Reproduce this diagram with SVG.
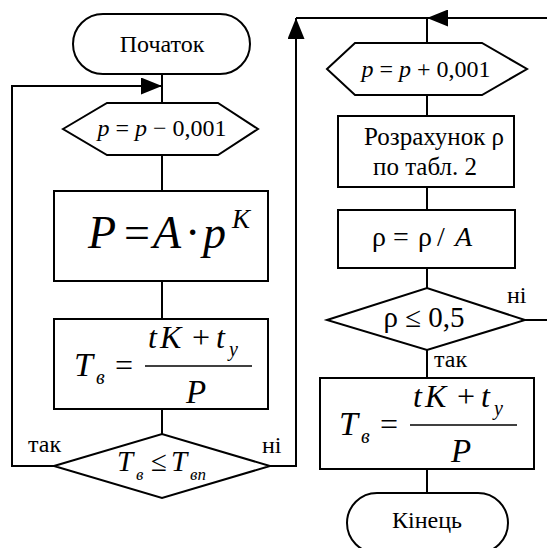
<svg xmlns="http://www.w3.org/2000/svg" width="547" height="548" viewBox="0 0 547 548">
<style>
.s{fill:#fff;stroke:#000;stroke-width:2}
.c{fill:none;stroke:#000;stroke-width:2}
text{font-family:'Liberation Serif','Liberation Sans',serif;fill:#000}
.i{font-style:italic}
.n{font-style:normal}
</style>
<defs>
<marker id="ah" markerUnits="userSpaceOnUse" viewBox="0 0 21 17" refX="21" refY="8.5" markerWidth="21" markerHeight="17" orient="auto">
<path d="M0,0 L21,8.5 L0,17 z" fill="#000"/>
</marker>
</defs>
<rect width="547" height="548" fill="#fff"/>
<g id="connectors">
<path class="c" d="M162,74 V103"/>
<path class="c" d="M54,466 H12 V86 H162" marker-end="url(#ah)"/>
<path class="c" d="M162,155 V191"/>
<path class="c" d="M162,281 V319"/>
<path class="c" d="M162,409 V434"/>
<path class="c" d="M270,466 H296 V18" marker-end="url(#ah)"/>
<path class="c" d="M296,18 H427"/>
<path class="c" d="M547,18 H427" marker-end="url(#ah)"/>
<path class="c" d="M427,18 V43"/>
<path class="c" d="M427,95 V116"/>
<path class="c" d="M427,187 V210"/>
<path class="c" d="M427,268 V288"/>
<path class="c" d="M427,350 V378"/>
<path class="c" d="M525,320 H547"/>
<path class="c" d="M427,469 V493"/>
<text x="28" y="452" font-size="24">так</text>
<text x="262" y="453" font-size="24">ні</text>
<text x="507" y="303" font-size="24">ні</text>
<text x="434" y="367" font-size="24">так</text>
</g>
<g id="start">
<rect class="s" x="73" y="14" width="177" height="60" rx="30"/>
<text x="162" y="52" font-size="24" text-anchor="middle">Початок</text>
</g>
<g id="dec1">
<polygon class="s" points="63,129 107,103 218,103 258,129 218,155 107,155"/>
<text x="162" y="136" font-size="24" text-anchor="middle"><tspan class="i">p</tspan> = <tspan class="i">p</tspan> − 0,001</text>
</g>
<g id="calcP">
<rect class="s" x="54" y="191" width="214" height="90"/>
<text class="i" font-size="46" y="248"><tspan x="88">P</tspan><tspan x="124" class="n">=</tspan><tspan x="153">A</tspan><tspan x="185" class="n">·</tspan><tspan x="203">p</tspan></text>
<text class="i" font-size="27" x="232" y="228">K</text>
</g>
<g id="calcT1">
<rect class="s" x="54" y="319" width="214" height="90"/>
<text class="i" font-size="34" x="74" y="376">T</text>
<text class="i" font-size="20" x="96" y="384">в</text>
<text font-size="32" x="115" y="376">=</text>
<line x1="145" y1="366" x2="252" y2="366" stroke="#000" stroke-width="1.5"/>
<text class="i" font-size="32" y="348"><tspan x="148">t</tspan><tspan x="160">K</tspan><tspan x="192" class="n">+</tspan><tspan x="216">t</tspan></text>
<text class="i" font-size="20" x="229" y="356">y</text>
<text class="i" font-size="33" x="186" y="403">P</text>
</g>
<g id="dec2">
<polygon class="s" points="54,466 162,434 270,466 162,498"/>
<text class="i" font-size="29" x="117" y="471">T</text>
<text class="i" font-size="17" x="136" y="480">в</text>
<text font-size="29" x="151" y="471">≤</text>
<text class="i" font-size="29" x="171" y="471">T</text>
<text class="i" font-size="17" x="190" y="480">вп</text>
</g>
<g id="inc">
<polygon class="s" points="327,69 355,43 482,43 527,69 482,95 355,95"/>
<text x="426" y="77" font-size="24" text-anchor="middle"><tspan class="i">p</tspan> = <tspan class="i">p</tspan> + 0,001</text>
</g>
<g id="calcRho">
<rect class="s" x="338" y="116" width="176" height="71"/>
<text font-size="25" x="364" y="145">Розрахунок ρ</text>
<text font-size="25" x="373" y="175">по табл. 2</text>
</g>
<g id="divRho">
<rect class="s" x="338" y="210" width="177" height="58"/>
<text font-size="28" y="246"><tspan x="372">ρ</tspan><tspan x="393">=</tspan><tspan x="418">ρ</tspan><tspan x="437">/</tspan><tspan x="455" class="i">A</tspan></text>
</g>
<g id="dec3">
<polygon class="s" points="327,320 427,288 525,320 427,350"/>
<text font-size="29" x="424" y="327" text-anchor="middle">ρ ≤ 0,5</text>
</g>
<g id="calcT2">
<rect class="s" x="320" y="378" width="214" height="91"/>
<text class="i" font-size="34" x="339" y="435">T</text>
<text class="i" font-size="20" x="361" y="443">в</text>
<text font-size="32" x="380" y="435">=</text>
<line x1="410" y1="425" x2="517" y2="425" stroke="#000" stroke-width="1.5"/>
<text class="i" font-size="32" y="407"><tspan x="413">t</tspan><tspan x="425">K</tspan><tspan x="457" class="n">+</tspan><tspan x="481">t</tspan></text>
<text class="i" font-size="20" x="494" y="415">y</text>
<text class="i" font-size="33" x="451" y="462">P</text>
</g>
<g id="end">
<rect class="s" x="347" y="493" width="161" height="60" rx="30"/>
<text x="427" y="528" font-size="24" text-anchor="middle">Кінець</text>
</g>
</svg>
